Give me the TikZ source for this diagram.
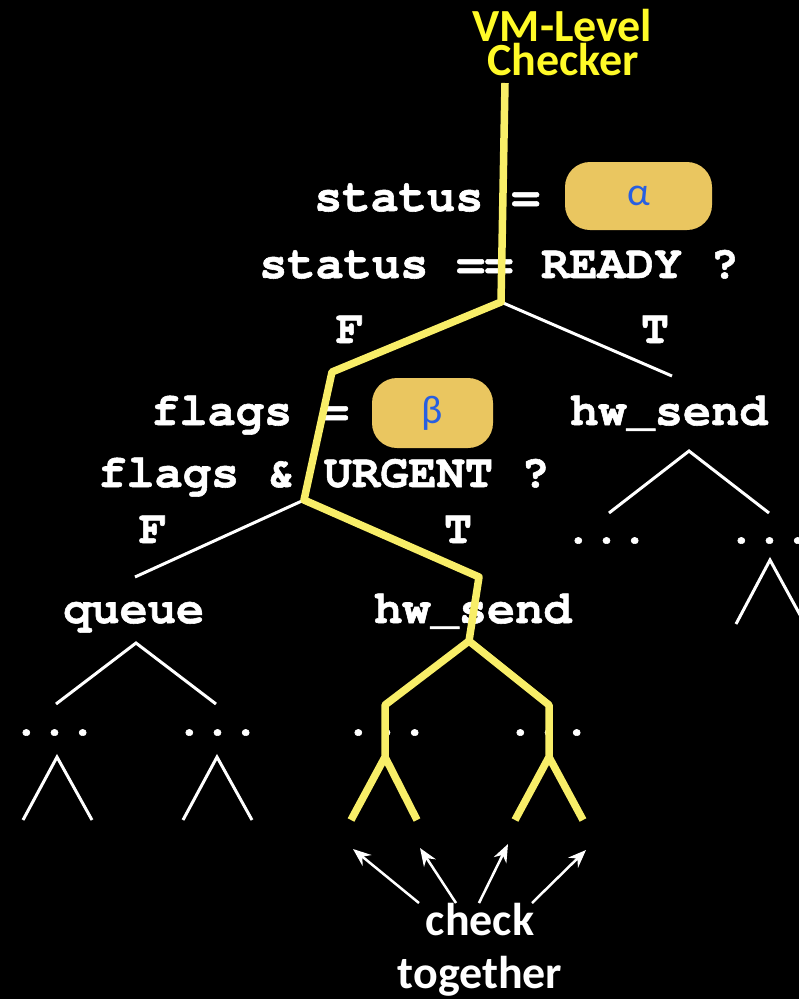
\documentclass[tikz,border=0pt]{standalone}
\usepackage{fontspec}
\setmonofont{texgyrecursor}[Extension=.otf, UprightFont=*-regular, BoldFont=*-bold, Ligatures=NoCommon, BoldFeatures={FakeBold=1.2}]
\newfontfamily\carlito{Carlito}
\usetikzlibrary{arrows.meta}
\definecolor{hl}{RGB}{248,238,104}
\definecolor{hltext}{RGB}{255,250,40}
\definecolor{gold}{RGB}{234,198,96}
\definecolor{greekblue}{RGB}{40,95,225}
\begin{document}
\begin{tikzpicture}[x=1pt,y=-1pt,
  code/.style={text=white, font=\ttfamily\bfseries\fontsize{47}{50}\selectfont, inner sep=0pt, anchor=base west},
  codec/.style={code, anchor=base},
  dotrow/.style={code, font=\ttfamily\bfseries\fontsize{47}{50}\selectfont\addfontfeature{FakeBold=2.5}},
  title/.style={text=hltext, font=\carlito\bfseries\fontsize{46}{46}\selectfont, inner sep=0pt, anchor=base},
  note/.style={text=white, font=\carlito\bfseries\fontsize{46}{46}\selectfont, inner sep=0pt, anchor=base},
  pill/.style={fill=gold, rounded corners=25pt, inner sep=0pt, text=greekblue, font=\carlito\fontsize{40}{40}\selectfont},
  hlpath/.style={draw=hl, line width=7.5pt, line join=round},
  branch/.style={draw=white, line width=3pt},
  arr/.style={draw=white, line width=2.5pt, -{Stealth[length=18pt,width=14pt]}}]
\fill[black] (0,0) rectangle (799,999);
\useasboundingbox (0,0) rectangle (799,999);

% title
\node[title] (vm1) at (562.5,41) {VM-Level};
\node[title] (vm2) at (563,75) {Checker};

% level 1
\node[code] (s1) at (314,211) {status =};
\node[pill, minimum width=147pt, minimum height=68pt] (alpha) at (638.5,196) {α};
\node[code] (s2) at (259,278) {status == READY ?};
\node[codec] (F1) at (350,343) {F};
\node[codec] (T1) at (655,343) {T};

% level 2
\node[code] (f1) at (151,425) {flags =};
\node[pill, minimum width=121pt, minimum height=70pt] (beta) at (432.5,413) {β};
\node[code] (f2) at (98,487) {flags \& URGENT ?};
\node[code] (hwR) at (570,425) {hw\_send};
\node[codec] (F2) at (153,543) {F};
\node[codec] (T2) at (458,543) {T};

% level 3
\node[code] (q) at (63,623) {queue};
\node[code] (hwM) at (374,623) {hw\_send};

% dots
\node[dotrow] (d1) at (564,543) {...};
\node[dotrow] (d2) at (727,543) {...};
\node[dotrow] (d3) at (12,735) {...};
\node[dotrow] (d4) at (175,735) {...};
\node[dotrow] (d5) at (344,735) {...};
\node[dotrow] (d6) at (506,735) {...};

% coordinates of the tree
\coordinate (r0) at (505,83);
\coordinate (n1) at (501,302);
\coordinate (n1T) at (672,376);
\coordinate (n2) at (332,372);
\coordinate (n3) at (304,500);
\coordinate (n3F) at (135,577);
\coordinate (n4) at (479,577);
\coordinate (n5) at (469,641);
\coordinate (n6L) at (385,705);
\coordinate (n6Lb) at (385,757);
\coordinate (l1) at (351,820);
\coordinate (l2) at (417,820);
\coordinate (n6R) at (549,705);
\coordinate (n6Rb) at (549,757);
\coordinate (l3) at (515,820);
\coordinate (l4) at (583,820);
% right subtree
\coordinate (rA) at (689,451);
\coordinate (rAl) at (609,513);
\coordinate (rAr) at (769,513);
\coordinate (rB) at (770,560);
\coordinate (rBl) at (736,624);
\coordinate (rBr) at (805,624);
% queue subtree
\coordinate (qA) at (136,643);
\coordinate (qAl) at (56,704);
\coordinate (qAr) at (216,704);
\coordinate (qB) at (57,757);
\coordinate (qBl) at (23,820);
\coordinate (qBr) at (92,820);
\coordinate (qC) at (217,757);
\coordinate (qCl) at (183,820);
\coordinate (qCr) at (252,820);

% white branches
\draw[branch] (n1) -- (n1T);
\draw[branch] (n3) -- (n3F);
\draw[branch] (rAl) -- (rA) -- (rAr);
\draw[branch] (rBl) -- (rB) -- (rBr);
\draw[branch] (qAl) -- (qA) -- (qAr);
\draw[branch] (qBl) -- (qB) -- (qBr);
\draw[branch] (qCl) -- (qC) -- (qCr);

% highlighted path
\draw[hlpath] (r0) -- (n1) -- (n2) -- (n3) -- (n4) -- (n5);
\draw[hlpath] (l1) -- (n6Lb) -- (n6L) -- (n5) -- (n6R) -- (n6Rb) -- (l3);
\draw[hlpath] (n6Lb) -- (l2);
\draw[hlpath] (n6Rb) -- (l4);

% check together
\node[note] (chk) at (480,935) {check};
\node[note] (tog) at (480,988) {together};
\coordinate (t1) at (419,903);
\coordinate (h1) at (353,849);
\coordinate (t2) at (456,903);
\coordinate (h2) at (420,848);
\coordinate (t3) at (479,903);
\coordinate (h3) at (508,844);
\coordinate (t4) at (532,903);
\coordinate (h4) at (586,850);
\draw[arr] (t1) -- (h1);
\draw[arr] (t2) -- (h2);
\draw[arr] (t3) -- (h3);
\draw[arr] (t4) -- (h4);
\end{tikzpicture}
\end{document}
